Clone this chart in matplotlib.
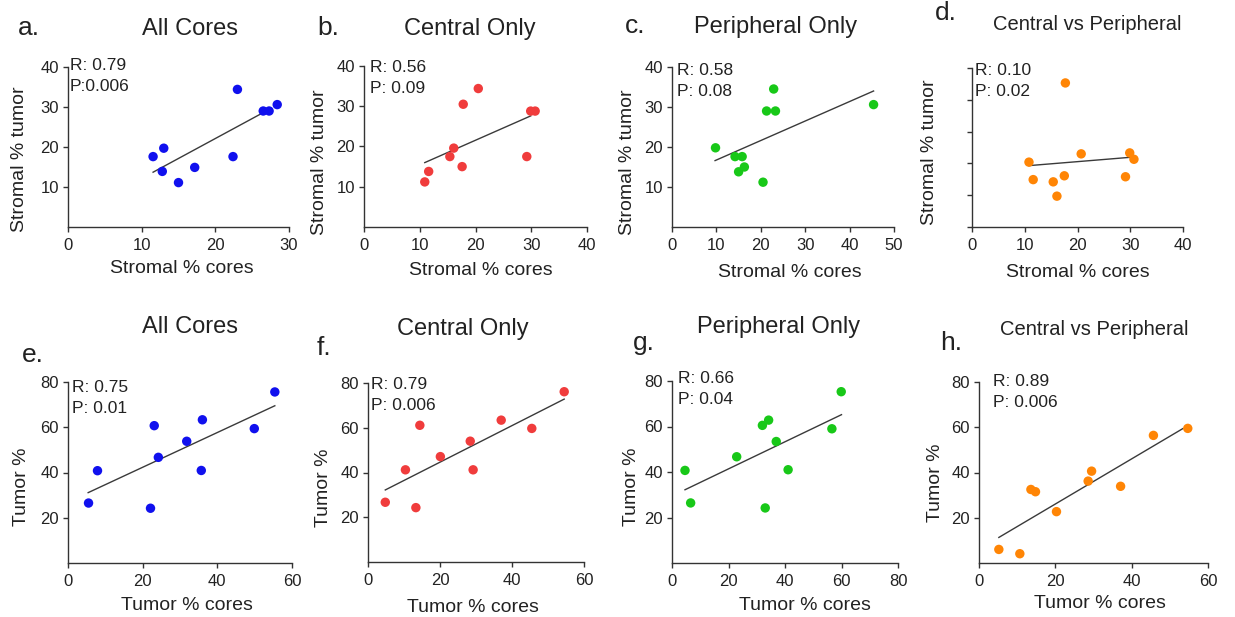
import matplotlib
matplotlib.use("Agg")
import matplotlib.pyplot as plt

plt.rcParams['font.family'] = ['Liberation Sans', 'DejaVu Sans']

W, H = 1235, 617

# ---- data ----
# top row: stromal %
a_x = [11.55, 13.0, 12.8, 15.0, 17.2, 22.4, 23.0, 26.5, 27.3, 28.4]
a_y = [17.6, 19.7, 13.9, 11.1, 14.9, 17.6, 34.4, 29.0, 29.0, 30.6]
a_fit = ([11.55, 26.3], [13.7, 28.4])

b_x = [10.9, 11.6, 15.4, 16.1, 17.6, 17.8, 20.5, 29.2, 29.9, 30.7]
b_y = [11.2, 13.8, 17.5, 19.6, 15.0, 30.5, 34.4, 17.5, 28.8, 28.8]
b_fit = ([10.9, 29.9], [16.0, 27.6])

c_x = [9.8, 14.2, 15.8, 15.0, 16.3, 20.5, 21.3, 23.3, 22.9, 45.4]
c_y = [19.8, 17.6, 17.6, 13.8, 15.0, 11.2, 29.0, 29.0, 34.5, 30.6]
c_fit = ([9.7, 45.4], [16.6, 34.0])

d_x = [10.8, 11.6, 15.4, 16.1, 17.5, 17.7, 20.7, 29.1, 29.9, 30.7]
d_y = [20.4, 14.9, 14.2, 9.7, 16.1, 45.3, 23.0, 15.8, 23.3, 21.3]
d_fit = ([10.8, 29.9], [19.3, 21.9])

# bottom row: tumor %
e_x = [5.5, 7.9, 22.1, 23.1, 24.2, 31.8, 35.7, 36.0, 49.9, 55.4]
e_y = [26.5, 40.8, 24.2, 60.7, 46.7, 53.8, 40.9, 63.3, 59.4, 75.6]
e_fit = ([5.4, 55.4], [31.1, 69.5])

f_x = [4.8, 10.4, 13.3, 14.4, 20.1, 28.4, 29.2, 37.0, 45.5, 54.5]
f_y = [26.7, 41.2, 24.3, 61.1, 47.1, 54.0, 41.2, 63.4, 59.7, 76.1]
f_fit = ([4.8, 54.5], [32.2, 72.8])

g_x = [4.6, 6.6, 22.9, 32.0, 34.2, 36.9, 33.0, 41.1, 56.6, 59.9]
g_y = [40.7, 26.4, 46.7, 60.5, 62.8, 53.4, 24.2, 41.0, 59.0, 75.3]
g_fit = ([4.6, 60.0], [32.2, 65.2])

h_x = [5.2, 10.7, 13.6, 14.8, 20.3, 28.6, 29.5, 37.1, 45.7, 54.7]
h_y = [6.0, 4.1, 32.5, 31.5, 22.7, 36.2, 40.6, 33.9, 56.4, 59.5]
h_fit = ([5.2, 53.4], [11.3, 59.4])

titles = ["All Cores", "Central Only", "Peripheral Only", "Central vs Peripheral"]
letters = ["a.", "b.", "c.", "d.", "e.", "f.", "g.", "h."]
stats = ["R: 0.79\nP:0.006", "R: 0.56\nP: 0.09", "R: 0.58\nP: 0.08", "R: 0.10\nP: 0.02",
         "R: 0.75\nP: 0.01", "R: 0.79\nP: 0.006", "R: 0.66\nP: 0.04", "R: 0.89\nP: 0.006"]

blue, red, green, orange = "#1010EE", "#F03C3C", "#18C818", "#FF8505"

panels = [
    # data, fit, colour, xlim, xticks, ylim, yticks, ylabels, box(px l,t,r,b)
    (a_x, a_y, a_fit, blue, 30, [0, 10, 20, 30], 40, [10, 20, 30, 40], True, (68, 67, 289, 227)),
    (b_x, b_y, b_fit, red, 40, [0, 10, 20, 30, 40], 40, [10, 20, 30, 40], True, (364, 66, 587, 227)),
    (c_x, c_y, c_fit, green, 50, [0, 10, 20, 30, 40, 50], 40, [10, 20, 30, 40], True, (672, 67, 894, 227)),
    (d_x, d_y, d_fit, orange, 40, [0, 10, 20, 30, 40], 50, [0, 10, 20, 30, 40, 50], False, (972, 68, 1183, 227)),
    (e_x, e_y, e_fit, blue, 60, [0, 20, 40, 60], 80, [20, 40, 60, 80], True, (68, 382, 292, 563)),
    (f_x, f_y, f_fit, red, 60, [0, 20, 40, 60], 80, [20, 40, 60, 80], True, (368, 383, 584, 562)),
    (g_x, g_y, g_fit, green, 80, [0, 20, 40, 60, 80], 80, [20, 40, 60, 80], True, (672, 381, 898, 563)),
    (h_x, h_y, h_fit, orange, 60, [0, 20, 40, 60], 80, [20, 40, 60, 80], True, (979, 382, 1208, 563)),
]

# text placement in pixels
title_pos = [(190, 35), (470, 35), (776, 33), (1087, 30), (190, 333), (463, 335), (779, 333), (1094, 335)]
letter_pos = [(18, 35), (317, 35), (625, 33), (935, 20), (22, 362), (317, 355), (633, 350), (940, 350)]
stat_pos = [(70, 70), (370, 72), (677, 75), (975, 75), (72, 392), (371, 389), (678, 383), (993, 386)]
ylab_pos = [(20, 159), (320, 162), (628, 162), (930, 152), (21, 487), (323, 488), (631, 487), (936, 483)]
xlab_pos = [(182, 273), (481, 275), (790, 277), (1078, 277), (187, 610), (473, 612), (805, 610), (1100, 608)]
ylab_text = ["Stromal % tumor"] * 4 + ["Tumor %"] * 4
xlab_text = ["Stromal % cores"] * 4 + ["Tumor % cores"] * 4

fig = plt.figure(figsize=(W / 100, H / 100), dpi=100)
axc = "#333333"

for i, (xs, ys, fit, col, xmax, xt, ymax, yt, showy, box) in enumerate(panels):
    l, t, r, b = box
    ax = fig.add_axes([l / W, 1 - b / H, (r - l) / W, (b - t) / H])
    ax.plot(fit[0], fit[1], color="#3a3a3a", lw=1.0, zorder=2)
    ax.scatter(xs, ys, s=46, color=col, edgecolors="none", zorder=3)
    ax.set_xlim(0, xmax)
    ax.set_ylim(0, ymax)
    ax.set_xticks(xt)
    ax.set_yticks(yt)
    if not showy:
        ax.set_yticklabels([])
    for s in ["top", "right"]:
        ax.spines[s].set_visible(False)
    for s in ["left", "bottom"]:
        ax.spines[s].set_linewidth(1.0)
        ax.spines[s].set_color(axc)
    ax.tick_params(axis="x", length=3.5, width=1.0, color=axc, pad=4.5, labelsize=12, labelcolor="#222222")
    ax.tick_params(axis="y", length=3.5, width=1.0, color=axc, pad=3, labelsize=12, labelcolor="#222222")

    tsize = 14.5 if i % 4 == 3 else 17
    fig.text(title_pos[i][0] / W, 1 - title_pos[i][1] / H, titles[i % 4], fontsize=tsize,
             ha="center", va="baseline", color="#222222")
    fig.text(letter_pos[i][0] / W, 1 - letter_pos[i][1] / H, letters[i], fontsize=19,
             ha="left", va="baseline", color="#222222")
    fig.text(stat_pos[i][0] / W, 1 - stat_pos[i][1] / H, stats[i].split("\n")[0], fontsize=12.5,
             ha="left", va="baseline", color="#222222")
    fig.text(stat_pos[i][0] / W, 1 - (stat_pos[i][1] + 21) / H, stats[i].split("\n")[1], fontsize=12.5,
             ha="left", va="baseline", color="#222222")
    fig.text(ylab_pos[i][0] / W, 1 - ylab_pos[i][1] / H, ylab_text[i], fontsize=14, rotation=90,
             ha="center", va="center", color="#222222")
    fig.text(xlab_pos[i][0] / W, 1 - xlab_pos[i][1] / H, xlab_text[i], fontsize=14,
             ha="center", va="baseline", color="#222222")

fig.savefig("out.png", dpi=100)
